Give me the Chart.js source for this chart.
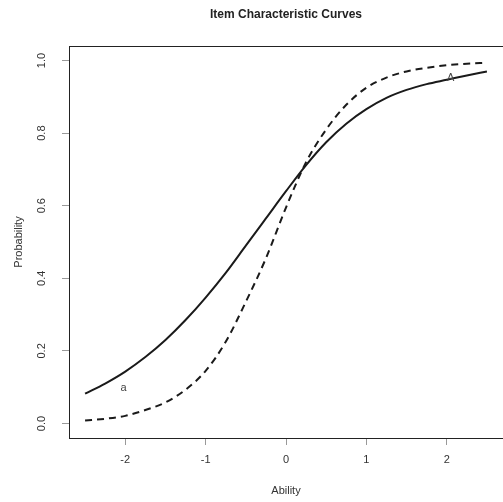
<!DOCTYPE html>
<html>
<head>
<meta charset="utf-8">
<script src="https://cdn.jsdelivr.net/npm/chart.js@4/dist/chart.umd.min.js"></script>
<style>
  body { margin: 0; background: #fff; }
  canvas { display: block; }
</style>
</head>
<body>
<canvas id="chart" width="503" height="502"></canvas>
<script>
// Ability values (theta)
const ability = [-2.5, -2.25, -2, -1.75, -1.5, -1.25, -1, -0.75, -0.5, -0.25, 0,
                 0.25, 0.5, 0.75, 1, 1.25, 1.5, 1.75, 2, 2.25, 2.5];

// solid curve (item a)
const itemA = [0.082, 0.11, 0.143, 0.183, 0.23, 0.285, 0.347, 0.415, 0.49, 0.565, 0.64,
               0.712, 0.775, 0.826, 0.866, 0.897, 0.919, 0.935, 0.947, 0.959, 0.97];

// dashed curve (item A)
const itemB = [0.008, 0.013, 0.021, 0.037, 0.058, 0.093, 0.145, 0.225, 0.335, 0.455, 0.595,
               0.72, 0.81, 0.878, 0.925, 0.953, 0.97, 0.98, 0.987, 0.991, 0.994];

// curve labels written on the plot
const curveLabels = [
    { text: 'a', x: -2.02, y: 0.097 },
    { text: 'A', x: 2.05, y: 0.952 }
];

const xTicks = [-2, -1, 0, 1, 2];
const yTicks = [0, 0.2, 0.4, 0.6, 0.8, 1.0];

const FONT = '"Liberation Sans", Arial, Helvetica, sans-serif';
const TEXT = '#333';

function toPoints(ys) {
    return ability.map((x, i) => ({ x: x, y: ys[i] }));
}

// box, title, rotated y labels and the a / A annotations
const decorations = {
    id: 'decorations',
    afterDraw(chart) {
        const ctx = chart.ctx;
        const area = chart.chartArea;
        const xs = chart.scales.x;
        const ys = chart.scales.y;

        ctx.save();
        ctx.strokeStyle = '#222';
        ctx.lineWidth = 1;
        ctx.strokeRect(area.left + 0.5, area.top + 0.5, area.right - area.left, area.bottom - area.top);

        // title
        ctx.fillStyle = '#222';
        ctx.font = 'bold 12px ' + FONT;
        ctx.textAlign = 'center';
        ctx.textBaseline = 'middle';
        ctx.fillText('Item Characteristic Curves', (area.left + area.right) / 2, 15);

        // y tick labels, rotated like R's default
        ctx.fillStyle = TEXT;
        ctx.font = '11px ' + FONT;
        ys.ticks.forEach(t => {
            ctx.save();
            ctx.translate(42, ys.getPixelForValue(t.value));
            ctx.rotate(-Math.PI / 2);
            ctx.fillText(t.value.toFixed(1), 0, 0);
            ctx.restore();
        });

        // curve labels
        ctx.fillStyle = '#444';
        curveLabels.forEach(l => {
            ctx.fillText(l.text, xs.getPixelForValue(l.x), ys.getPixelForValue(l.y));
        });
        ctx.restore();
    }
};

new Chart(document.getElementById('chart').getContext('2d'), {
    type: 'line',
    data: {
        datasets: [
            {
                label: 'a',
                data: toPoints(itemA),
                borderColor: '#1a1a1a',
                borderWidth: 2,
                pointRadius: 0,
                cubicInterpolationMode: 'monotone',
                fill: false
            },
            {
                label: 'A',
                data: toPoints(itemB),
                borderColor: '#1a1a1a',
                borderWidth: 2,
                borderDash: [7, 5],
                pointRadius: 0,
                cubicInterpolationMode: 'monotone',
                fill: false
            }
        ]
    },
    options: {
        responsive: false,
        animation: false,
        layout: { padding: { top: 46, left: 0, right: 0, bottom: 0 } },
        plugins: {
            legend: { display: false },
            tooltip: { enabled: false },
            title: { display: false }
        },
        scales: {
            x: {
                type: 'linear',
                min: -2.7,
                max: 2.7,
                afterBuildTicks: s => { s.ticks = xTicks.map(v => ({ value: v })); },
                afterFit: s => { s.height = 64; },
                grid: { drawOnChartArea: false, drawTicks: true, tickLength: 7, color: '#999' },
                border: { display: false },
                ticks: {
                    padding: 8,
                    color: TEXT,
                    font: { family: FONT, size: 11 },
                    maxRotation: 0,
                    callback: v => String(v)
                },
                title: {
                    display: true,
                    text: 'Ability',
                    color: TEXT,
                    font: { family: FONT, size: 11 },
                    padding: { top: 0, bottom: 4 }
                }
            },
            y: {
                type: 'linear',
                min: -0.04,
                max: 1.04,
                afterBuildTicks: s => { s.ticks = yTicks.map(v => ({ value: v })); },
                afterFit: s => { s.width = 69; },
                grid: { drawOnChartArea: false, drawTicks: true, tickLength: 7, color: '#999' },
                border: { display: false },
                ticks: { display: false },
                title: {
                    display: true,
                    text: 'Probability',
                    color: TEXT,
                    font: { family: FONT, size: 11 },
                    padding: { top: 12, bottom: 0 }
                }
            }
        }
    },
    plugins: [decorations]
});
</script>
</body>
</html>
